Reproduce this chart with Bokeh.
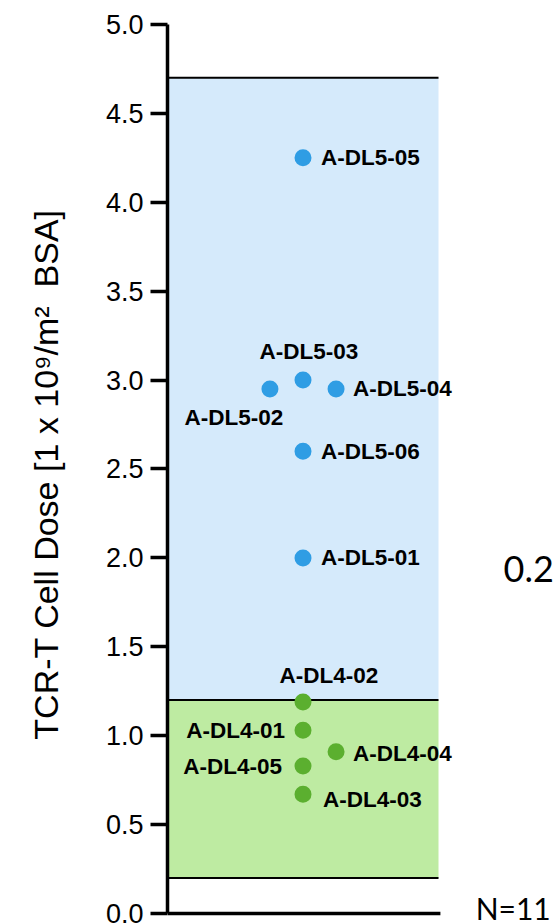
from bokeh.plotting import figure
from bokeh.models import ColumnDataSource, FixedTicker, PrintfTickFormatter, Label, Range1d
from bokeh.core.properties import value
from bokeh.embed import file_html
from bokeh.resources import INLINE

# ---------------- data ----------------
patients = ["A-DL4-01", "A-DL4-02", "A-DL4-03", "A-DL4-04", "A-DL4-05",
            "A-DL5-01", "A-DL5-02", "A-DL5-03", "A-DL5-04", "A-DL5-05", "A-DL5-06"]
dose = [1.03, 1.19, 0.67, 0.91, 0.83, 2.00, 2.95, 3.00, 2.95, 4.25, 2.60]
strip_col = [0, 0, 0, 1, 0, 0, -1, 0, 1, 0, 0]   # column of the strip (-1 left, 0 centre, 1 right)
dose_level = ["DL4"] * 5 + ["DL5"] * 6

band_levels = ["DL4", "DL5"]
band_low = [0.2, 1.2]
band_high = [1.2, 4.7]

y_ticks = [0.0, 0.5, 1.0, 1.5, 2.0, 2.5, 3.0, 3.5, 4.0, 4.5, 5.0]
y_title = "TCR-T Cell Dose [1 x 10\u2079/m\u00b2 \u00a0BSA]"
side_text = "0.2"
n_text = "N=11"

# ---------------- styles ----------------
point_color = {"DL4": "#5BAF2F", "DL5": "#2F9DE4"}
band_color = {"DL4": "#BEEBA2", "DL5": "#D5EAFB"}

# label placement (screen offsets from point centre, px) and alignment
label_layout = {
    "A-DL4-01": (-18, 0, "right"),
    "A-DL4-02": (26, -26, "center"),
    "A-DL4-03": (20, 5, "left"),
    "A-DL4-04": (17, 2, "left"),
    "A-DL4-05": (-21, 1, "right"),
    "A-DL5-01": (18, 0, "left"),
    "A-DL5-02": (-36, 29, "center"),
    "A-DL5-03": (6, -29, "center"),
    "A-DL5-04": (17, 0, "left"),
    "A-DL5-05": (18, 0, "left"),
    "A-DL5-06": (18, 0, "left"),
}

CENTER = 0.5
COL_STEP = 0.122
STRIP_END = 1.0      # right end of the shaded strip
AXIS_END = 1.007     # right end of the bottom axis line

p = figure(width=554, height=924, output_backend="svg", toolbar_location=None,
           x_range=Range1d(0, 1.428), y_range=Range1d(-0.062, 5),
           min_border_left=167, min_border_right=0, min_border_top=24, min_border_bottom=0)
p.frame_width = 387
p.frame_height = 900
p.outline_line_color = None
p.xgrid.visible = False
p.ygrid.visible = False
p.xaxis.visible = False
p.background_fill_color = "white"
p.border_fill_color = "white"

# bands
bsrc = ColumnDataSource(dict(
    left=[0.0] * len(band_levels), right=[STRIP_END] * len(band_levels),
    bottom=band_low, top=band_high,
    color=[band_color[l] for l in band_levels]))
p.quad(left="left", right="right", bottom="bottom", top="top",
       fill_color="color", line_color=None, source=bsrc)

edges = sorted(set(band_low + band_high))
p.segment(x0=[0.0] * len(edges), x1=[STRIP_END] * len(edges), y0=edges, y1=edges,
          line_color="black", line_width=2)

# bottom axis line
p.segment(x0=[0.0], x1=[AXIS_END], y0=[0.0], y1=[0.0], line_color="black", line_width=3.5)

# points
xs = [CENTER + c * COL_STEP for c in strip_col]
psrc = ColumnDataSource(dict(x=xs, y=dose, color=[point_color[l] for l in dose_level]))
p.scatter("x", "y", size=17, fill_color="color", line_color=None, source=psrc)

# labels
for align in ["left", "right", "center"]:
    idx = [i for i, n in enumerate(patients) if label_layout[n][2] == align]
    src = ColumnDataSource(dict(
        x=[xs[i] for i in idx], y=[dose[i] for i in idx],
        text=[patients[i] for i in idx],
        xo=[label_layout[patients[i]][0] for i in idx],
        yo=[label_layout[patients[i]][1] for i in idx]))
    p.text("x", "y", text="text", x_offset="xo", y_offset="yo", source=src,
           text_align=align, text_baseline="middle",
           text_font=value("Liberation Sans"), text_font_style="bold",
           text_font_size="22.5px", text_color="black")

# y axis
ax = p.yaxis[0]
ax.bounds = (0, 5)
ax.ticker = FixedTicker(ticks=y_ticks)
ax.formatter = PrintfTickFormatter(format="%.1f")
ax.axis_line_width = 3.5
ax.major_tick_line_width = 3.5
ax.major_tick_out = 17
ax.major_tick_in = 0
ax.minor_tick_line_color = None
ax.major_label_text_font = "Liberation Sans"
ax.major_label_text_font_size = "27px"
ax.major_label_text_color = "black"
ax.major_label_standoff = 7
ax.axis_label = y_title
ax.axis_label_text_font = "Liberation Sans"
ax.axis_label_text_font_style = "normal"
ax.axis_label_text_font_size = "34px"
ax.axis_label_text_color = "black"
ax.axis_label_standoff = 38

# side texts
p.add_layout(Label(x=1.24, y=1.94, text=side_text, text_font="Lato",
                   text_font_size="36px", text_baseline="middle", text_color="black"))
p.add_layout(Label(x=1.137, y=0.028, text=n_text, text_font="Lato",
                   text_font_size="30px", text_baseline="middle", text_color="black"))

open("out.html", "w").write(file_html(p, INLINE))
